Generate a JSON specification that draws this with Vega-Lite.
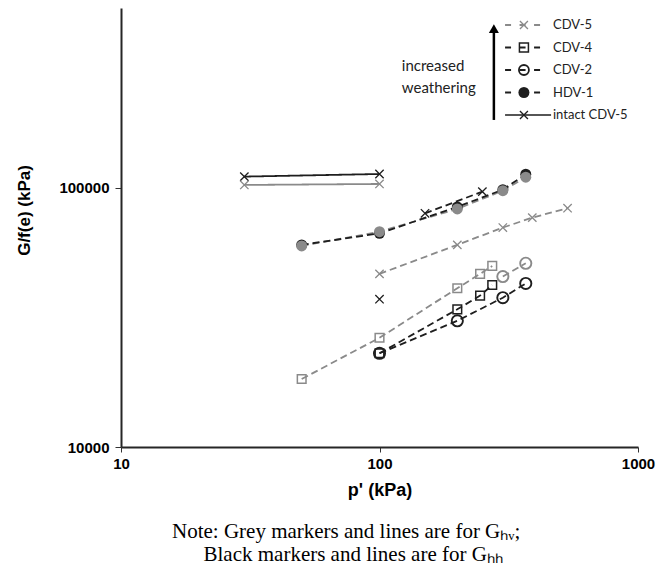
{
  "$schema": "https://vega.github.io/schema/vega-lite/v6.json",
  "width": 517,
  "height": 439,
  "autosize": "none",
  "padding": {"left": 121, "top": 8, "right": 32, "bottom": 127},
  "background": "white",
  "config": {"view": {"stroke": null}, "font": "Liberation Sans"},
  "title": {
    "text": ["Note: Grey markers and lines are for Gₕᵥ;", "\u200b\u00a0\u00a0\u00a0\u00a0\u00a0\u00a0Black markers and lines are for Gₕₕ"],
    "orient": "bottom",
    "anchor": "start",
    "align": "left",
    "frame": "group",
    "dx": 51,
    "font": "Liberation Serif",
    "fontSize": 21,
    "fontWeight": "normal",
    "color": "#000000",
    "offset": 22,
    "lineHeight": 23
  },
  "datasets": {
    "obs": [
      {"material": "intact CDV-5", "component": "Ghh", "run": "a", "p": 30, "G": 110600},
      {"material": "intact CDV-5", "component": "Ghh", "run": "a", "p": 100, "G": 113200},
      {"material": "intact CDV-5", "component": "Ghv", "run": "a", "p": 30, "G": 102700},
      {"material": "intact CDV-5", "component": "Ghv", "run": "a", "p": 100, "G": 103600},
      {"material": "CDV-5", "component": "Ghv", "run": "a", "p": 100, "G": 46600},
      {"material": "CDV-5", "component": "Ghv", "run": "a", "p": 200, "G": 60300},
      {"material": "CDV-5", "component": "Ghv", "run": "a", "p": 300, "G": 70300},
      {"material": "CDV-5", "component": "Ghv", "run": "a", "p": 390, "G": 76800},
      {"material": "CDV-5", "component": "Ghv", "run": "a", "p": 534, "G": 83500},
      {"material": "CDV-5", "component": "Ghh", "run": "a", "p": 100, "G": 37200},
      {"material": "CDV-5", "component": "Ghh", "run": "b", "p": 150, "G": 79800},
      {"material": "CDV-5", "component": "Ghh", "run": "b", "p": 250, "G": 96800},
      {"material": "CDV-4", "component": "Ghv", "run": "a", "p": 50, "G": 18300},
      {"material": "CDV-4", "component": "Ghv", "run": "a", "p": 100, "G": 26400},
      {"material": "CDV-4", "component": "Ghv", "run": "a", "p": 200, "G": 41000},
      {"material": "CDV-4", "component": "Ghv", "run": "a", "p": 245, "G": 46600},
      {"material": "CDV-4", "component": "Ghv", "run": "a", "p": 273, "G": 50000},
      {"material": "CDV-4", "component": "Ghh", "run": "a", "p": 100, "G": 23000},
      {"material": "CDV-4", "component": "Ghh", "run": "a", "p": 200, "G": 34000},
      {"material": "CDV-4", "component": "Ghh", "run": "a", "p": 245, "G": 38400},
      {"material": "CDV-4", "component": "Ghh", "run": "a", "p": 273, "G": 42200},
      {"material": "CDV-2", "component": "Ghv", "run": "a", "p": 300, "G": 45500},
      {"material": "CDV-2", "component": "Ghv", "run": "a", "p": 368, "G": 51200},
      {"material": "CDV-2", "component": "Ghh", "run": "a", "p": 100, "G": 23000},
      {"material": "CDV-2", "component": "Ghh", "run": "a", "p": 200, "G": 30700},
      {"material": "CDV-2", "component": "Ghh", "run": "a", "p": 300, "G": 37700},
      {"material": "CDV-2", "component": "Ghh", "run": "a", "p": 368, "G": 42800},
      {"material": "HDV-1", "component": "Ghv", "run": "a", "p": 50, "G": 59700},
      {"material": "HDV-1", "component": "Ghv", "run": "a", "p": 100, "G": 67800},
      {"material": "HDV-1", "component": "Ghv", "run": "a", "p": 200, "G": 83000},
      {"material": "HDV-1", "component": "Ghv", "run": "a", "p": 300, "G": 97600},
      {"material": "HDV-1", "component": "Ghv", "run": "a", "p": 368, "G": 110000},
      {"material": "HDV-1", "component": "Ghh", "run": "a", "p": 50, "G": 60300},
      {"material": "HDV-1", "component": "Ghh", "run": "a", "p": 100, "G": 66800},
      {"material": "HDV-1", "component": "Ghh", "run": "a", "p": 200, "G": 84500},
      {"material": "HDV-1", "component": "Ghh", "run": "a", "p": 300, "G": 98500},
      {"material": "HDV-1", "component": "Ghh", "run": "a", "p": 368, "G": 113000}
    ],
    "legendKeys": [
      {"material": "CDV-5"}, {"material": "CDV-4"}, {"material": "CDV-2"}, {"material": "HDV-1"}, {"material": "intact CDV-5"}
    ]
  },
  "resolve": {"scale": {"y": "independent"}},
  "layer": [
    {
      "layer": [
        {
          "data": {"name": "obs"},
          "mark": {"type": "line", "strokeWidth": 1.8},
          "encoding": {
            "x": {
              "field": "p", "type": "quantitative",
              "scale": {"type": "log", "domain": [10, 1000], "nice": false},
              "axis": {
                "values": [10, 100, 1000], "format": "d", "grid": false, "labelFlush": false,
                "labelFont": "Liberation Sans", "labelFontWeight": "bold", "labelFontSize": 15, "labelColor": "#000000",
                "tickSize": 5, "tickColor": "#333333", "domainColor": "#262626", "domainWidth": 2, "labelPadding": 4,
                "title": "p' (kPa)", "titleFont": "Liberation Sans", "titleFontSize": 18, "titleFontWeight": "bold", "titleColor": "#000000", "titlePadding": 10
              }
            },
            "y": {
              "field": "G", "type": "quantitative",
              "scale": {"type": "log", "domain": [10000, 495000], "nice": false},
              "axis": {
                "values": [10000, 100000], "format": "d", "grid": false, "labelFlush": false,
                "labelFont": "Liberation Sans", "labelFontWeight": "bold", "labelFontSize": 15, "labelColor": "#000000",
                "tickSize": 6, "tickColor": "#333333", "domainColor": "#262626", "domainWidth": 2, "labelPadding": 6,
                "title": "G/f(e) (kPa)", "titleFont": "Liberation Sans", "titleFontSize": 17, "titleFontWeight": "bold", "titleColor": "#000000",
                "titleY": 202, "titleX": -88
              }
            },
            "color": {"field": "component", "type": "nominal", "scale": {"domain": ["Ghv", "Ghh"], "range": ["#8a8a8a", "#1e1e1e"]}, "legend": null},
            "strokeDash": {"field": "material", "type": "nominal", "scale": {"domain": ["CDV-5", "CDV-4", "CDV-2", "HDV-1", "intact CDV-5"], "range": [[7, 4], [7, 4], [7, 4], [7, 4], [1, 0]]}, "legend": null},
            "detail": [{"field": "material"}, {"field": "run"}],
            "order": {"field": "p", "type": "quantitative"}
          }
        },
        {
          "data": {"name": "obs"},
          "transform": [{"filter": "datum.material === 'CDV-5' || datum.material === 'intact CDV-5'"}],
          "mark": {"type": "point", "shape": "M-1,-1L1,1M-1,1L1,-1", "size": 70, "filled": false, "strokeWidth": 1.3, "opacity": 1},
          "encoding": {
            "x": {"field": "p", "type": "quantitative"},
            "y": {"field": "G", "type": "quantitative"},
            "color": {"field": "component", "type": "nominal", "legend": null}
          }
        },
        {
          "data": {"name": "obs"},
          "transform": [{"filter": "datum.material === 'CDV-4'"}],
          "mark": {"type": "point", "shape": "square", "size": 75, "filled": false, "strokeWidth": 1.5, "opacity": 1},
          "encoding": {
            "x": {"field": "p", "type": "quantitative"},
            "y": {"field": "G", "type": "quantitative"},
            "color": {"field": "component", "type": "nominal", "legend": null}
          }
        },
        {
          "data": {"name": "obs"},
          "transform": [{"filter": "datum.material === 'CDV-2'"}],
          "mark": {"type": "point", "shape": "circle", "size": 125, "filled": false, "strokeWidth": 1.9, "opacity": 1},
          "encoding": {
            "x": {"field": "p", "type": "quantitative"},
            "y": {"field": "G", "type": "quantitative"},
            "color": {"field": "component", "type": "nominal", "legend": null}
          }
        },
        {
          "data": {"name": "obs"},
          "transform": [{"filter": "datum.material === 'HDV-1' && datum.component === 'Ghh'"}],
          "mark": {"type": "point", "shape": "circle", "size": 120, "filled": true, "opacity": 1},
          "encoding": {
            "x": {"field": "p", "type": "quantitative"},
            "y": {"field": "G", "type": "quantitative"},
            "color": {"field": "component", "type": "nominal", "legend": null}
          }
        },
        {
          "data": {"name": "obs"},
          "transform": [{"filter": "datum.material === 'HDV-1' && datum.component === 'Ghv'"}],
          "mark": {"type": "point", "shape": "circle", "size": 120, "filled": true, "opacity": 1},
          "encoding": {
            "x": {"field": "p", "type": "quantitative"},
            "y": {"field": "G", "type": "quantitative"},
            "color": {"field": "component", "type": "nominal", "legend": null}
          }
        },
        {
          "data": {"name": "legendKeys"},
          "transform": [{"filter": "datum.material === 'CDV-5'"}],
          "mark": {"type": "rule", "color": "#000000", "strokeWidth": 2.5},
          "encoding": {
            "x": {"datum": 277, "type": "quantitative"},
            "y": {"datum": 183000, "type": "quantitative"},
            "y2": {"datum": 400000}
          }
        },
        {
          "data": {"name": "legendKeys"},
          "transform": [{"filter": "datum.material === 'CDV-5'"}],
          "mark": {"type": "point", "shape": "triangle-up", "size": 100, "filled": true, "color": "#000000", "opacity": 1},
          "encoding": {
            "x": {"datum": 277, "type": "quantitative"},
            "y": {"datum": 412000, "type": "quantitative"}
          }
        }
      ]
    },
    {
      "data": {"name": "legendKeys"},
      "encoding": {
        "y": {
          "field": "material", "type": "nominal",
          "scale": {"type": "point", "domain": ["CDV-5", "CDV-4", "CDV-2", "HDV-1", "intact CDV-5"], "padding": 0, "range": [17, 107]},
          "axis": null
        }
      },
      "layer": [
        {
          "transform": [{"filter": "datum.material !== 'intact CDV-5'"}],
          "mark": {"type": "rule", "strokeWidth": 1.8, "strokeDash": [6, 8.5]},
          "encoding": {
            "x": {"datum": 306, "type": "quantitative"},
            "x2": {"datum": 418},
            "color": {"condition": {"test": "datum.material === 'CDV-5'", "value": "#8a8a8a"}, "value": "#1e1e1e"}
          }
        },
        {
          "transform": [{"filter": "datum.material === 'intact CDV-5'"}],
          "mark": {"type": "rule", "strokeWidth": 1.5, "color": "#1e1e1e"},
          "encoding": {
            "x": {"datum": 306, "type": "quantitative"},
            "x2": {"datum": 461}
          }
        },
        {
          "transform": [{"filter": "datum.material === 'CDV-5' || datum.material === 'intact CDV-5'"}],
          "mark": {"type": "point", "shape": "M-1,-1L1,1M-1,1L1,-1", "size": 64, "filled": false, "strokeWidth": 1.3, "opacity": 1},
          "encoding": {
            "x": {"datum": 362, "type": "quantitative"},
            "color": {"condition": {"test": "datum.material === 'CDV-5'", "value": "#8a8a8a"}, "value": "#1e1e1e"}
          }
        },
        {
          "transform": [{"filter": "datum.material === 'CDV-4'"}],
          "mark": {"type": "point", "shape": "square", "size": 81, "filled": false, "strokeWidth": 1.5, "color": "#1e1e1e", "opacity": 1},
          "encoding": {"x": {"datum": 362, "type": "quantitative"}}
        },
        {
          "transform": [{"filter": "datum.material === 'CDV-2'"}],
          "mark": {"type": "point", "shape": "circle", "size": 100, "filled": false, "strokeWidth": 1.8, "color": "#1e1e1e", "opacity": 1},
          "encoding": {"x": {"datum": 362, "type": "quantitative"}}
        },
        {
          "transform": [{"filter": "datum.material === 'HDV-1'"}],
          "mark": {"type": "point", "shape": "circle", "size": 121, "filled": true, "color": "#1e1e1e", "opacity": 1},
          "encoding": {"x": {"datum": 362, "type": "quantitative"}}
        },
        {
          "mark": {"type": "text", "align": "left", "baseline": "middle", "font": "Lato", "fontSize": 13, "color": "#222222"},
          "encoding": {
            "x": {"datum": 469, "type": "quantitative"},
            "text": {"field": "material", "type": "nominal"}
          }
        },
        {
          "transform": [{"filter": "datum.material === 'CDV-2'"}],
          "mark": {"type": "text", "text": ["increased", "weathering"], "align": "left", "baseline": "middle", "font": "Lato", "fontSize": 15, "lineHeight": 22, "color": "#222222", "dy": -4},
          "encoding": {
            "x": {"datum": 122, "type": "quantitative"}
          }
        }
      ]
    }
  ]
}
